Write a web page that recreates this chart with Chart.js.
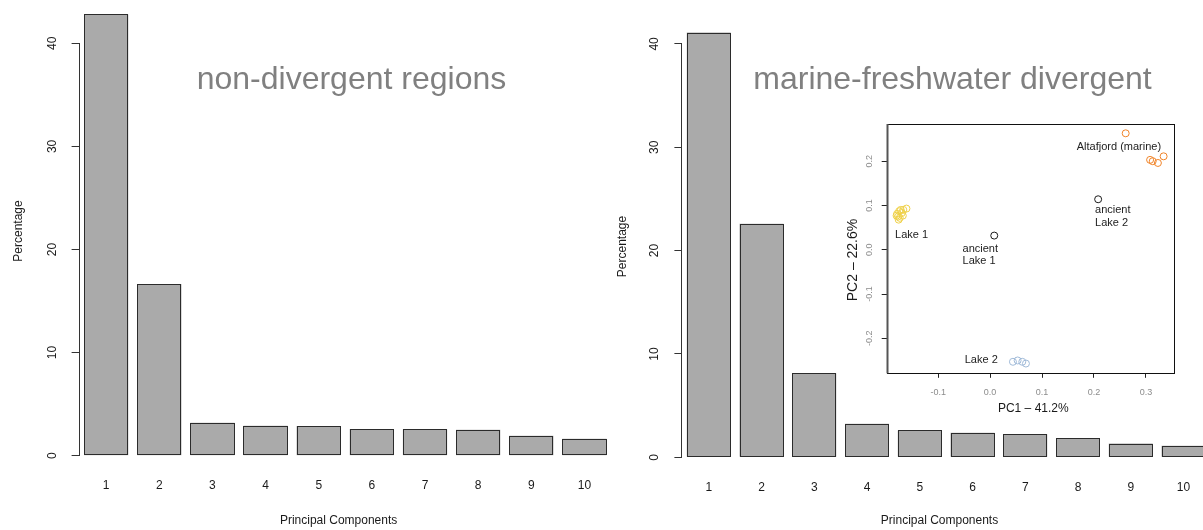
<!DOCTYPE html>
<html>
<head>
<meta charset="utf-8">
<script src="https://cdn.jsdelivr.net/npm/chart.js@4.4.1/dist/chart.umd.min.js"></script>
<style>
  html, body { margin: 0; padding: 0; background: #ffffff; overflow: hidden; width: 1203px; height: 530px; }
  #wrap { position: relative; width: 1203px; height: 530px; overflow: hidden; }
  canvas { position: absolute; display: block; }
  #leftChart { left: 0; top: 0; }
  #rightChart { left: 606px; top: 0; }
  #insetChart { left: 840px; top: 110px; }
</style>
</head>
<body>
<div id="wrap">
  <canvas id="leftChart" width="615" height="530"></canvas>
  <canvas id="rightChart" width="609" height="530"></canvas>
  <canvas id="insetChart" width="345" height="310"></canvas>
</div>
<script>
// ---------------- DATA ----------------
const components = ['1', '2', '3', '4', '5', '6', '7', '8', '9', '10'];
const nonDivergentPct = [42.8, 16.65, 3.2, 2.9, 2.88, 2.6, 2.56, 2.52, 1.94, 1.65];
const divergentPct = [41.1, 22.6, 8.14, 3.24, 2.6, 2.38, 2.22, 1.86, 1.33, 1.11];
const pctTicks = [0, 10, 20, 30, 40];

const leftTitle = 'non-divergent regions';
const rightTitle = 'marine-freshwater divergent';
const yAxisTitle = 'Percentage';
const xAxisTitle = 'Principal Components';

const pc1Ticks = [-0.1, 0.0, 0.1, 0.2, 0.3];
const pc2Ticks = [-0.2, -0.1, 0.0, 0.1, 0.2];
const pc1Title = 'PC1 \u2013 41.2%';
const pc2Title = 'PC2 \u2013 22.6%';

const lake1PC1 = [-0.177, -0.175, -0.179, -0.172, -0.174, -0.180, -0.170, -0.161, -0.176, -0.168, -0.167];
const lake1PC2 = [0.075, 0.087, 0.081, 0.090, 0.072, 0.077, 0.083, 0.093, 0.068, 0.077, 0.090];
const marinePC1 = [0.261, 0.308, 0.313, 0.323, 0.334];
const marinePC2 = [0.263, 0.203, 0.200, 0.196, 0.211];
const lake2PC1 = [0.044, 0.053, 0.062, 0.069];
const lake2PC2 = [-0.253, -0.250, -0.253, -0.257];
const ancientPC1 = [0.008, 0.208];
const ancientPC2 = [0.032, 0.114];

const labelTexts = ['Lake 1', 'ancient', 'Lake 1', 'ancient', 'Lake 2', 'Altafjord (marine)', 'Lake 2'];
const labelPC1   = [-0.151, -0.053, -0.053, 0.202, 0.202, 0.248, -0.017];
const labelPC2   = [0.034, 0.002, -0.026, 0.090, 0.060, 0.232, -0.248];
const labelAlign = ['center', 'left', 'left', 'left', 'left', 'center', 'center'];

// ---------------- STYLE ----------------
const FONT = "'Liberation Sans', Arial, Helvetica, sans-serif";
Chart.defaults.font.family = FONT;
Chart.defaults.animation = false;

function textPlugin(items) {
  return {
    id: 'rText',
    afterDraw(chart) {
      const ctx = chart.ctx;
      items.forEach(it => {
        ctx.save();
        ctx.font = (it.size) + 'px ' + FONT;
        ctx.fillStyle = it.color || '#1a1a1a';
        ctx.textAlign = it.align || 'center';
        ctx.textBaseline = it.baseline || 'middle';
        ctx.translate(it.x, it.y);
        if (it.rotate) ctx.rotate(it.rotate);
        ctx.fillText(it.text, 0, 0);
        ctx.restore();
      });
    }
  };
}

const axisLinePlugin = {
  id: 'rAxisLine',
  afterDraw(chart) {
    const s = chart.scales.y;
    const ctx = chart.ctx;
    const x = Math.round(chart.chartArea.left) - 0.5;
    ctx.save();
    ctx.strokeStyle = '#333333';
    ctx.lineWidth = 1;
    ctx.beginPath();
    ctx.moveTo(x, s.getPixelForValue(pctTicks[0]));
    ctx.lineTo(x, s.getPixelForValue(pctTicks[pctTicks.length - 1]));
    ctx.stroke();
    ctx.restore();
  }
};

// crisp R-style outline around every bar, from the bar elements' own geometry
const barOutlinePlugin = {
  id: 'barOutline',
  afterDatasetsDraw(chart) {
    const ctx = chart.ctx;
    const meta = chart.getDatasetMeta(0);
    ctx.save();
    ctx.strokeStyle = '#2b2b2b';
    ctx.lineWidth = 1;
    meta.data.forEach(b => {
      const p = b.getProps(['x', 'y', 'base', 'width'], true);
      const l = Math.round(p.x - p.width / 2) + 0.5;
      const r = Math.round(p.x + p.width / 2) - 0.5;
      const t = Math.round(p.y) + 0.5;
      const bt = Math.round(p.base) - 0.5;
      ctx.strokeRect(l, t, r - l, bt - t);
    });
    ctx.restore();
  }
};

function zeroPad(s) { s.paddingTop = 0; s.paddingBottom = 0; s.paddingLeft = 0; s.paddingRight = 0; }

function barChart(id, values, g, texts) {
  return new Chart(document.getElementById(id), {
    type: 'bar',
    data: {
      labels: components,
      datasets: [{
        data: values,
        backgroundColor: '#AAAAAA',
        borderWidth: 0,
        categoryPercentage: 1,
        barPercentage: 1 / 1.2
      }]
    },
    options: {
      responsive: false,
      animation: false,
      events: [],
      layout: { padding: { top: g.padTop, right: g.padRight, left: 0, bottom: 0 } },
      plugins: { legend: { display: false }, tooltip: { enabled: false }, title: { display: false } },
      scales: {
        x: {
          type: 'category',
          offset: true,
          grid: { display: false, drawTicks: false },
          border: { display: false },
          ticks: { font: { size: 12 }, color: '#1a1a1a', padding: g.xTickPad, maxRotation: 0, minRotation: 0, autoSkip: false },
          afterFit(s) { s.height = g.xHeight; zeroPad(s); }
        },
        y: {
          min: 0,
          max: 44,
          grid: { drawOnChartArea: false, drawTicks: true, tickLength: 8, color: '#333333', lineWidth: 1 },
          border: { display: false },
          ticks: { font: { size: 12 }, color: '#1a1a1a', minRotation: 90, maxRotation: 90, crossAlign: 'center', padding: g.yTickPad },
          afterBuildTicks(s) { s.ticks = pctTicks.map(v => ({ value: v })); },
          afterFit(s) { s.width = g.yWidth; zeroPad(s); }
        }
      }
    },
    plugins: [barOutlinePlugin, axisLinePlugin, textPlugin(texts)]
  });
}

// Left chart (canvas origin x=0)
barChart('leftChart', nonDivergentPct,
  { padTop: 2.1, padRight: 4, xHeight: 74.3, yWidth: 79.6, xTickPad: 23, yTickPad: 12 },
  [
    { text: leftTitle, x: 196.7, y: 89.3, size: 32, color: '#808080', align: 'left', baseline: 'alphabetic' },
    { text: yAxisTitle, x: 18.9, y: 231, size: 12, rotate: -Math.PI / 2 },
    { text: xAxisTitle, x: 338.6, y: 521, size: 12 }
  ]);

// Right chart (canvas origin x=606)
barChart('rightChart', divergentPct,
  { padTop: 2.6, padRight: 5.1, xHeight: 72.7, yWidth: 76.4, xTickPad: 23, yTickPad: 13 },
  [
    { text: rightTitle, x: 147.3, y: 89.3, size: 32, color: '#808080', align: 'left', baseline: 'alphabetic' },
    { text: yAxisTitle, x: 16.3, y: 246.5, size: 12, rotate: -Math.PI / 2 },
    { text: xAxisTitle, x: 333.5, y: 521, size: 12 }
  ]);

// Inset scatter (canvas origin 840,110)
function pts(xs, ys) { return xs.map((x, i) => ({ x: x, y: ys[i] })); }

const insetFrame = {
  id: 'insetFrame',
  afterDraw(chart) {
    const a = chart.chartArea, ctx = chart.ctx;
    ctx.save();
    ctx.strokeStyle = '#111111';
    ctx.lineWidth = 1;
    ctx.strokeRect(Math.round(a.left) + 0.5, Math.round(a.top) + 0.5, Math.round(a.right - a.left), Math.round(a.bottom - a.top));
    ctx.strokeStyle = '#555555';
    ctx.lineWidth = 2;
    ctx.beginPath();
    ctx.moveTo(Math.round(a.left) + 0.5, a.top);
    ctx.lineTo(Math.round(a.left) + 0.5, a.bottom);
    ctx.stroke();
    // point labels
    const sx = chart.scales.x, sy = chart.scales.y;
    ctx.font = '11px ' + FONT;
    ctx.fillStyle = '#222222';
    ctx.textBaseline = 'middle';
    labelTexts.forEach((t, i) => {
      ctx.textAlign = labelAlign[i];
      ctx.fillText(t, sx.getPixelForValue(labelPC1[i]), sy.getPixelForValue(labelPC2[i]));
    });
    ctx.restore();
  }
};

const pointStyle = { pointRadius: 3.5, pointBorderWidth: 1, backgroundColor: 'rgba(0,0,0,0)', pointBackgroundColor: 'rgba(0,0,0,0)' };

new Chart(document.getElementById('insetChart'), {
  type: 'scatter',
  data: {
    datasets: [
      Object.assign({ data: pts(lake1PC1, lake1PC2), borderColor: '#EFD14A', pointBorderColor: '#EFD14A' }, pointStyle),
      Object.assign({ data: pts(marinePC1, marinePC2), borderColor: '#F08429', pointBorderColor: '#F08429' }, pointStyle),
      Object.assign({ data: pts(lake2PC1, lake2PC2), borderColor: '#A0BAD8', pointBorderColor: '#A0BAD8' }, pointStyle),
      Object.assign({ data: pts(ancientPC1, ancientPC2), borderColor: '#1a1a1a', pointBorderColor: '#1a1a1a' }, pointStyle)
    ]
  },
  options: {
    responsive: false,
    animation: false,
    events: [],
    layout: { padding: { top: 14, right: 11, left: 0, bottom: 0 } },
    plugins: { legend: { display: false }, tooltip: { enabled: false } },
    scales: {
      x: {
        type: 'linear', min: -0.199, max: 0.354,
        grid: { drawOnChartArea: false, drawTicks: true, tickLength: 4.5, color: '#222222' },
        border: { display: false },
        ticks: { font: { size: 9 }, color: '#8C8C8C', padding: 9.5, maxRotation: 0, callback: v => Number(v).toFixed(1) },
        afterBuildTicks(s) { s.ticks = pc1Ticks.map(v => ({ value: v })); },
        afterFit(s) { s.height = 46.7; zeroPad(s); }
      },
      y: {
        type: 'linear', min: -0.279, max: 0.284,
        grid: { drawOnChartArea: false, drawTicks: true, tickLength: 5, color: '#222222' },
        border: { display: false },
        ticks: { font: { size: 9 }, color: '#8C8C8C', padding: 4, minRotation: 90, maxRotation: 90, crossAlign: 'center', callback: v => Number(v).toFixed(1) },
        afterBuildTicks(s) { s.ticks = pc2Ticks.map(v => ({ value: v })); },
        afterFit(s) { s.width = 46.7; zeroPad(s); }
      }
    }
  },
  plugins: [insetFrame, textPlugin([
    { text: pc1Title, x: 193.3, y: 298.3, size: 12 },
    { text: pc2Title, x: 13.3, y: 150, size: 14, rotate: -Math.PI / 2 }
  ])]
});
</script>
</body>
</html>
